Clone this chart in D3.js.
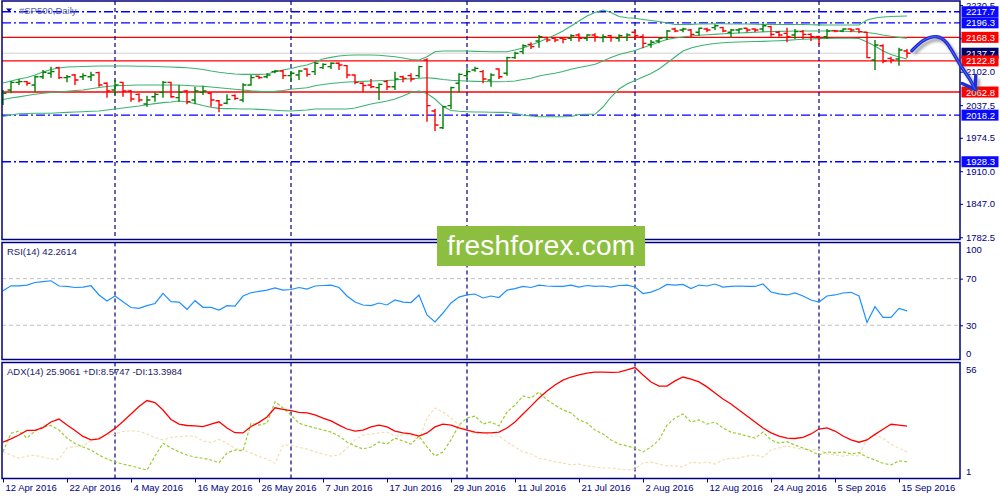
<!DOCTYPE html>
<html><head><meta charset="utf-8">
<script src="https://cdn.jsdelivr.net/npm/d3@7"></script>
<style>
body{margin:0;background:#fff;}
svg{display:block;font-family:"Liberation Sans",Arial,sans-serif;}
</style>
</head><body>
<svg id="c" width="1000" height="500"></svg>
<script>
// ---------------- DATA ----------------
const dates = [
"2016-04-12","2016-04-13","2016-04-14","2016-04-15","2016-04-18","2016-04-19","2016-04-20","2016-04-21","2016-04-22","2016-04-25",
"2016-04-26","2016-04-27","2016-04-28","2016-04-29","2016-05-02","2016-05-03","2016-05-04","2016-05-05","2016-05-06","2016-05-09",
"2016-05-10","2016-05-11","2016-05-12","2016-05-13","2016-05-16","2016-05-17","2016-05-18","2016-05-19","2016-05-20","2016-05-23",
"2016-05-24","2016-05-25","2016-05-26","2016-05-27","2016-05-30","2016-05-31","2016-06-01","2016-06-02","2016-06-03","2016-06-06",
"2016-06-07","2016-06-08","2016-06-09","2016-06-10","2016-06-13","2016-06-14","2016-06-15","2016-06-16","2016-06-17","2016-06-20",
"2016-06-21","2016-06-22","2016-06-23","2016-06-24","2016-06-27","2016-06-28","2016-06-29","2016-06-30","2016-07-01","2016-07-04",
"2016-07-05","2016-07-06","2016-07-07","2016-07-08","2016-07-11","2016-07-12","2016-07-13","2016-07-14","2016-07-15","2016-07-18",
"2016-07-19","2016-07-20","2016-07-21","2016-07-22","2016-07-25","2016-07-26","2016-07-27","2016-07-28","2016-07-29","2016-08-01",
"2016-08-02","2016-08-03","2016-08-04","2016-08-05","2016-08-08","2016-08-09","2016-08-10","2016-08-11","2016-08-12","2016-08-15",
"2016-08-16","2016-08-17","2016-08-18","2016-08-19","2016-08-22","2016-08-23","2016-08-24","2016-08-25","2016-08-26","2016-08-29",
"2016-08-30","2016-08-31","2016-09-01","2016-09-02","2016-09-05","2016-09-06","2016-09-07","2016-09-08","2016-09-09","2016-09-12",
"2016-09-13","2016-09-14","2016-09-15","2016-09-16"];

const open = [2047.4,2066.7,2081.5,2082.8,2076.4,2092.4,2098.9,2109.8,2090.5,2095.7,
2092.4,2092.4,2100.2,2079.6,2066.7,2081.5,2064.8,2058.3,2039.7,2053.8,
2062.2,2081.5,2051.9,2064.8,2047.4,2062.2,2060.3,2046.1,2041.0,2055.8,
2047.4,2076.4,2093.1,2092.4,2102.1,2103.4,2094.4,2095.7,2107.2,2102.1,
2109.8,2111.7,2118.2,2113.7,2095.7,2079.6,2076.4,2071.2,2082.8,2073.1,
2092.4,2094.4,2094.4,2124.6,2026.2,1994.0,2036.5,2079.6,2094.4,2105.3,
2102.1,2086.0,2107.2,2098.9,2129.1,2140.7,2154.8,2161.2,2167.7,2166.4,
2166.4,2166.4,2172.8,2166.4,2172.8,2167.7,2171.5,2166.4,2168.3,2178.0,
2169.6,2154.8,2161.2,2167.7,2184.4,2182.5,2182.5,2178.0,2184.4,2187.0,
2187.0,2178.0,2182.5,2185.7,2184.4,2184.4,2188.9,2178.0,2176.0,2172.8,
2179.3,2174.1,2169.6,2169.6,2181.2,2180.5,2184.4,2184.4,2178.0,2124.6,
2152.2,2127.8,2126.5,2142.0];

const high = [2066.7,2084.1,2087.9,2084.1,2094.4,2105.3,2111.7,2111.7,2095.7,2097.6,
2098.9,2102.1,2102.1,2081.5,2086.0,2082.8,2066.7,2060.3,2055.8,2062.2,
2084.1,2082.8,2076.4,2066.7,2073.1,2075.1,2062.2,2047.4,2058.3,2058.3,
2079.6,2095.7,2094.4,2098.9,2105.3,2105.3,2102.1,2105.3,2108.5,2121.4,
2118.2,2120.1,2120.1,2114.9,2096.9,2081.5,2087.9,2079.6,2086.0,2102.1,
2094.4,2098.9,2113.7,2127.8,2030.1,2036.5,2073.1,2098.9,2108.5,2111.7,
2105.3,2098.9,2108.5,2131.0,2140.7,2154.8,2158.7,2172.8,2169.6,2168.3,
2168.3,2174.1,2176.0,2174.1,2176.0,2174.1,2172.8,2174.1,2176.0,2182.5,
2174.1,2163.2,2167.7,2182.5,2187.0,2187.0,2184.4,2187.0,2187.0,2193.4,
2188.9,2184.4,2185.7,2187.0,2185.7,2193.4,2190.8,2180.5,2187.0,2184.4,
2182.5,2176.0,2171.5,2184.4,2182.5,2185.7,2185.7,2185.7,2179.3,2163.2,
2154.8,2131.0,2148.4,2145.8];

const low = [2037.8,2060.3,2076.4,2075.1,2062.2,2087.9,2090.5,2087.9,2081.5,2076.4,
2086.0,2084.1,2073.1,2051.9,2057.1,2053.8,2044.2,2042.9,2034.6,2044.2,
2051.9,2051.9,2044.2,2039.1,2039.1,2057.1,2034.6,2023.6,2039.1,2047.4,
2042.9,2075.1,2087.9,2089.2,2098.9,2087.9,2082.8,2086.0,2092.4,2095.7,
2107.2,2107.2,2105.3,2089.2,2077.6,2062.2,2069.9,2047.4,2066.7,2066.7,
2081.5,2082.8,2090.5,2005.6,1987.6,1991.5,2030.1,2062.2,2087.9,2102.1,
2079.6,2073.1,2087.9,2094.4,2126.5,2135.5,2145.8,2148.4,2158.7,2158.7,
2156.7,2161.2,2160.0,2161.2,2160.0,2158.7,2160.0,2160.0,2161.2,2163.2,
2147.1,2148.4,2156.7,2163.2,2178.0,2178.0,2167.7,2171.5,2178.0,2182.5,
2178.0,2167.7,2176.0,2178.0,2178.0,2179.3,2169.6,2169.6,2158.7,2165.1,
2165.1,2161.2,2153.5,2165.1,2178.0,2178.0,2178.0,2176.0,2127.8,2105.3,
2118.2,2118.2,2113.7,2129.1];

const close = [2060.3,2081.5,2082.8,2079.6,2092.4,2100.8,2102.1,2090.5,2092.4,2086.0,
2094.4,2095.7,2076.4,2064.8,2076.4,2064.8,2049.3,2047.4,2047.4,2058.3,
2081.5,2053.8,2062.2,2044.2,2064.8,2064.8,2047.4,2037.8,2048.7,2050.6,
2076.4,2090.5,2090.5,2095.7,2103.4,2094.4,2098.9,2103.4,2096.9,2118.2,
2116.2,2118.2,2114.9,2095.7,2081.5,2075.1,2073.1,2077.6,2073.1,2087.9,
2089.2,2087.9,2111.7,2036.5,1999.2,2034.6,2071.2,2096.9,2102.1,2108.5,
2087.9,2095.7,2092.4,2129.1,2137.5,2152.2,2150.3,2169.6,2163.2,2163.2,
2164.5,2171.5,2166.4,2172.8,2169.0,2169.6,2167.7,2171.5,2172.8,2171.5,
2156.7,2158.7,2166.4,2180.5,2180.5,2184.4,2174.1,2185.7,2182.5,2190.8,
2180.5,2182.5,2184.4,2182.5,2182.5,2190.8,2174.1,2172.8,2169.6,2179.3,
2174.1,2169.6,2167.7,2180.5,2180.5,2184.4,2182.5,2179.3,2129.1,2153.5,
2122.7,2124.6,2143.9,2137.7];

const bbUpper = [2080.2,2084.0,2087.9,2090.8,2095.6,2101.4,2106.2,2109.1,2111.0,2111.6,
2112.0,2112.4,2113.0,2113.0,2113.0,2113.0,2113.0,2112.6,2112.4,2112.0,
2111.6,2111.0,2110.4,2109.7,2108.1,2106.2,2103.3,2100.8,2098.9,2097.5,
2096.9,2096.9,2096.9,2097.5,2102.0,2105.2,2108.1,2112.0,2114.9,2120.7,
2126.5,2129.7,2132.3,2133.6,2134.2,2134.2,2134.2,2133.6,2132.3,2130.9,
2128.4,2125.5,2124.5,2131.0,2140.6,2141.9,2141.9,2141.9,2141.9,2141.3,
2140.9,2140.6,2140.6,2140.6,2143.8,2147.7,2153.5,2159.3,2166.0,2172.8,
2180.5,2190.1,2199.8,2209.4,2216.2,2221.0,2216.2,2208.5,2206.0,2205.0,
2202.7,2200.7,2198.8,2195.9,2193.0,2193.0,2193.4,2194.0,2194.0,2194.4,
2194.4,2194.0,2194.0,2194.0,2193.6,2193.4,2193.4,2193.0,2193.0,2193.0,
2193.0,2192.6,2192.4,2192.1,2192.1,2192.1,2192.1,2192.1,2201.7,2205.6,
2207.5,2208.5,2209.0,2209.4];

const bbMiddle = [2048.3,2051.2,2053.5,2056.0,2058.4,2060.3,2061.8,2062.8,2064.3,2065.7,
2066.7,2069.0,2071.5,2073.4,2074.8,2075.3,2075.9,2076.3,2076.3,2076.3,
2076.3,2076.3,2076.3,2075.3,2074.4,2073.8,2072.4,2071.1,2069.5,2068.0,
2066.7,2065.1,2064.1,2063.4,2064.1,2065.7,2068.0,2069.5,2071.1,2074.9,
2077.3,2079.2,2080.7,2082.1,2082.7,2083.4,2084.0,2084.4,2085.0,2085.9,
2087.3,2088.5,2089.4,2090.4,2089.2,2086.9,2085.4,2084.6,2084.0,2083.4,
2083.1,2082.7,2082.7,2083.1,2084.0,2086.9,2089.2,2093.7,2096.6,2098.9,
2102.3,2106.6,2110.1,2113.0,2116.2,2122.6,2129.4,2135.1,2139.0,2142.9,
2148.7,2153.5,2159.3,2164.1,2167.0,2168.9,2170.8,2172.4,2173.3,2174.1,
2175.1,2175.9,2176.6,2177.4,2178.2,2178.9,2179.5,2179.9,2180.1,2180.5,
2180.5,2180.5,2180.5,2180.5,2180.5,2180.1,2179.7,2179.1,2177.6,2175.7,
2172.8,2170.3,2168.3,2166.4];

const bbLower = [2015.5,2018.4,2020.9,2021.3,2021.7,2021.7,2021.7,2022.7,2023.6,2024.2,
2024.8,2025.6,2026.1,2028.1,2030.0,2031.9,2033.9,2035.8,2038.1,2040.4,
2042.3,2043.5,2045.4,2043.5,2040.6,2036.8,2033.5,2031.3,2030.8,2030.4,
2030.0,2030.0,2029.4,2028.5,2027.5,2026.7,2026.1,2027.1,2028.1,2030.0,
2030.0,2030.0,2030.0,2030.0,2031.9,2035.8,2039.6,2042.5,2045.4,2049.3,
2055.1,2061.8,2064.7,2059.9,2049.3,2034.8,2027.1,2025.6,2024.8,2024.2,
2024.2,2023.8,2023.6,2023.6,2021.3,2018.4,2016.5,2015.1,2015.1,2015.1,
2015.1,2015.5,2019.4,2019.8,2019.8,2033.9,2053.2,2068.6,2078.2,2085.0,
2091.7,2098.5,2107.2,2118.7,2130.3,2141.9,2147.7,2151.5,2154.4,2156.4,
2157.9,2158.7,2159.3,2159.8,2160.2,2160.6,2161.2,2161.8,2162.5,2163.5,
2164.5,2165.2,2165.8,2166.2,2166.4,2166.4,2166.4,2166.0,2159.3,2151.5,
2141.9,2135.1,2130.3,2126.5];

const rsi = [59.6,63.9,63.8,64.5,66.7,67.5,68.2,63.7,63.3,62.4,
62.8,63.9,56.0,50.8,55.1,50.2,45.2,44.5,46.8,48.7,
57.4,50.2,49.9,43.7,51.1,45.4,45.4,43.1,46.8,46.5,
55.1,57.9,59.0,60.2,62.0,60.2,60.7,62.4,61.1,63.7,
64.1,64.5,62.4,55.1,49.9,47.4,46.9,49.1,47.4,51.7,
49.9,49.5,56.0,38.8,32.8,40.5,49.1,54.2,56.0,56.8,
53.4,55.1,53.8,60.2,61.5,63.3,62.4,64.5,63.7,63.3,
63.3,64.5,62.8,64.1,63.3,63.7,62.8,64.1,64.5,62.8,
57.2,58.5,61.1,65.0,64.5,65.0,61.5,64.5,63.7,65.4,
62.8,63.3,63.7,63.3,63.3,65.4,58.5,56.9,56.0,57.7,
55.1,51.7,49.9,55.1,56.0,57.7,58.3,55.1,32.4,45.9,
36.8,36.8,44.5,42.3];

const adx = [18.1,19.7,21.6,23.8,23.8,25.2,27.9,29.3,26.4,23.8,
20.9,19.2,19.7,22.1,24.8,28.1,31.8,35.4,38.3,37.3,
33.7,29.1,26.9,26.2,26.0,25.7,26.9,28.0,25.0,22.7,
22.6,25.7,27.7,30.3,34.8,34.0,33.4,32.6,32.3,31.3,
29.8,28.4,26.4,24.5,23.5,24.0,25.5,26.4,25.5,23.5,
22.6,22.1,21.1,22.6,25.5,26.9,26.4,25.0,24.0,23.0,
22.6,22.6,23.0,25.0,27.9,31.8,35.6,39.5,42.9,45.8,
48.2,49.7,50.7,51.6,52.1,52.1,51.9,52.1,53.1,54.3,
50.7,47.3,45.3,45.3,47.8,49.7,48.7,47.3,44.9,41.9,
39.0,36.6,33.7,30.8,27.9,25.0,22.6,21.1,20.1,19.9,
20.4,22.1,24.5,25.0,23.5,21.1,19.2,18.1,19.2,21.9,
24.4,26.8,26.4,25.9];

const plusDI = [13.5,22.4,23.5,20.1,23.5,25.5,26.2,24.0,20.1,17.5,
15.8,14.3,11.9,10.0,8.5,7.5,6.6,5.6,4.6,11.4,
17.6,15.3,13.4,11.9,10.9,10.3,9.5,8.2,12.9,14.3,
14.0,27.3,26.4,27.3,37.7,34.7,31.3,27.3,26.0,25.0,
24.0,23.0,21.1,18.2,16.3,14.8,15.8,18.2,17.2,20.1,
18.7,17.2,21.1,15.8,11.4,13.4,19.2,26.4,29.8,30.8,
26.9,27.9,26.0,32.7,36.1,40.5,39.5,42.4,38.6,36.1,
33.7,32.3,28.9,27.4,24.0,22.1,19.2,17.2,16.3,15.3,
13.4,15.8,19.2,26.4,29.8,31.8,27.9,28.9,26.9,27.9,
25.0,23.0,22.1,21.1,20.1,23.0,19.2,17.7,18.4,16.7,
15.3,13.8,11.9,13.4,12.9,13.4,12.4,13.0,10.9,9.5,
7.9,7.1,9.1,8.6];

const minusDI = [13.5,11.9,10.3,11.4,11.7,10.9,10.0,9.8,15.3,16.0,
16.3,18.7,20.6,21.6,22.0,23.3,23.7,23.3,22.1,20.4,
19.2,20.4,20.8,21.1,20.9,18.7,17.9,19.5,17.7,15.1,
14.3,12.9,11.1,10.0,7.9,16.7,16.7,15.6,14.8,13.4,
12.4,11.4,11.9,15.3,19.2,21.6,22.1,22.6,23.0,21.1,
21.6,21.6,19.2,29.8,34.7,32.7,29.8,26.4,24.0,22.1,
23.0,21.1,21.1,18.2,15.8,13.4,12.4,10.4,9.5,8.5,
8.0,7.1,7.5,6.6,6.1,5.6,5.6,5.1,4.6,5.1,
8.0,8.5,7.5,6.6,6.6,6.1,8.5,8.0,8.5,7.5,
9.5,10.4,10.4,11.4,11.9,10.9,14.3,15.3,16.3,15.3,
14.8,14.3,14.8,12.4,11.9,11.4,11.9,11.4,20.1,21.6,
20.0,17.2,15.2,13.4];

const xTickDates = ["2016-04-12","2016-04-22","2016-05-04","2016-05-16","2016-05-26","2016-06-07","2016-06-17",
"2016-06-29","2016-07-11","2016-07-21","2016-08-02","2016-08-12","2016-08-24","2016-09-05","2016-09-15"];
const priceTicks = [2230.5, 2166.5, 2102.0, 2037.5, 1974.5, 1910.0, 1847.0, 1782.5];
const rsiTicks = [100, 70, 30, 0];
const rsiLevels = [70, 30];
const adxTicks = [56, 1];
const blueLevels = [2217.7, 2196.3, 2018.2, 1928.3];
const redLevels = [2168.3, 2122.8, 2062.8];
const bidPrice = 2137.7;
// hand-drawn forecast arrow (bar index, price)
const forecastBar   = [113.6, 114.2, 115.0, 115.9, 116.7, 117.3, 118.0, 118.8, 119.8, 120.9, 121.5];
const forecastPrice = [2142.5, 2151.5, 2161.8, 2168.3, 2169.5, 2166.4, 2156.8, 2137.5, 2111.6, 2086.0, 2068.0];
const headBar   = [119.9, 121.5, 121.6];
const headPrice = [2079.2, 2068.0, 2094.6];

// ---------------- LAYOUT ----------------
const svg = d3.select("#c");
const PL = 2, PR = 960;
const mainTop = 1, mainBot = 239.5, rsiTop = 242.5, rsiBot = 359.5, adxTop = 362.5, adxBot = 478.5;
const NAVY = "#000080";
const FONT = "9.5px";

const x = d3.scaleLinear().domain([0, dates.length - 1]).range([3, 907]);
const yMain = d3.scaleLinear().domain([1782.5, 2230.5]).range([237.3, 5.1]);
const yRsi = d3.scaleLinear().domain([0, 100]).range([360.2, 243.7]);
const yAdx = d3.scaleLinear().domain([1, 56]).range([477.5, 364]);

svg.append("rect").attr("width", 1000).attr("height", 500).attr("fill", "#fff");

const defs = svg.append("defs");
[["clipMain", mainTop, mainBot], ["clipRsi", rsiTop, rsiBot], ["clipAdx", adxTop, adxBot]].forEach(([id, t, b]) => {
  defs.append("clipPath").attr("id", id).append("rect")
    .attr("x", PL).attr("y", t).attr("width", PR - PL).attr("height", b - t);
});
const f = defs.append("filter").attr("id", "shadow").attr("x", "-20%").attr("y", "-20%").attr("width", "140%").attr("height", "140%");
f.append("feGaussianBlur").attr("stdDeviation", 1.6);

const parse = d3.timeParse("%Y-%m-%d");
const pd = dates.map(parse);
const monthStarts = pd.map((d, i) => i).filter(i => i > 0 && pd[i].getMonth() !== pd[i - 1].getMonth());

function separators(g, t, b) {
  g.selectAll(".sep").data(monthStarts).join("line")
    .attr("x1", i => x(i)).attr("x2", i => x(i)).attr("y1", t).attr("y2", b)
    .attr("stroke", NAVY).attr("stroke-width", 1.2).attr("stroke-dasharray", "4,3");
}

// ---------------- MAIN PANEL ----------------
const gMain = svg.append("g").attr("clip-path", "url(#clipMain)");
gMain.append("line").attr("x1", PL).attr("x2", PR).attr("y1", yMain(bidPrice)).attr("y2", yMain(bidPrice))
  .attr("stroke", "#d3d3d3").attr("stroke-width", 1);
gMain.selectAll(".bl").data(blueLevels).join("line")
  .attr("x1", PL).attr("x2", PR).attr("y1", d => yMain(d)).attr("y2", d => yMain(d))
  .attr("stroke", "#0000ff").attr("stroke-width", 1.4).attr("stroke-dasharray", "9,3,2,3");
gMain.selectAll(".rl").data(redLevels).join("line")
  .attr("x1", PL).attr("x2", PR).attr("y1", d => yMain(d)).attr("y2", d => yMain(d))
  .attr("stroke", "#ff0000").attr("stroke-width", 1.3);
separators(gMain, mainTop, mainBot);

const bandLine = d3.line().x((d, i) => x(i)).y(d => yMain(d));
[bbUpper, bbMiddle, bbLower].forEach(arr => {
  gMain.append("path").attr("d", bandLine(arr)).attr("fill", "none")
    .attr("stroke", "#3cb371").attr("stroke-width", 1.1);
});

gMain.selectAll(".bar").data(dates).join("path")
  .attr("d", (d, i) => {
    const xi = x(i);
    return `M${xi},${yMain(high[i])}V${yMain(low[i])}M${xi - 3.5},${yMain(open[i])}H${xi}M${xi},${yMain(close[i])}H${xi + 3.5}`;
  })
  .attr("fill", "none")
  .attr("stroke", (d, i) => close[i] >= open[i] ? "#008000" : "#ff0000")
  .attr("stroke-width", 1.4);

// ---------------- RSI PANEL ----------------
const gRsi = svg.append("g").attr("clip-path", "url(#clipRsi)");
gRsi.selectAll(".lv").data(rsiLevels).join("line")
  .attr("x1", PL).attr("x2", PR).attr("y1", d => yRsi(d)).attr("y2", d => yRsi(d))
  .attr("stroke", "#c0c0c0").attr("stroke-width", 1).attr("stroke-dasharray", "4,3");
separators(gRsi, rsiTop, rsiBot);
gRsi.append("path").attr("d", d3.line().x((d, i) => x(i)).y(d => yRsi(d))(rsi))
  .attr("fill", "none").attr("stroke", "#1e90ff").attr("stroke-width", 1.2);

// ---------------- ADX PANEL ----------------
const gAdx = svg.append("g").attr("clip-path", "url(#clipAdx)");
separators(gAdx, adxTop, adxBot);
const adxLine = d3.line().x((d, i) => x(i)).y(d => yAdx(d));
gAdx.append("path").attr("d", adxLine(minusDI)).attr("fill", "none")
  .attr("stroke", "#f5deb3").attr("stroke-width", 1.2).attr("stroke-dasharray", "3,2");
gAdx.append("path").attr("d", adxLine(plusDI)).attr("fill", "none")
  .attr("stroke", "#9acd32").attr("stroke-width", 1.2).attr("stroke-dasharray", "3,2");
gAdx.append("path").attr("d", adxLine(adx)).attr("fill", "none")
  .attr("stroke", "#ff0000").attr("stroke-width", 1.3);

// ---------------- BORDERS ----------------
[[mainTop, mainBot], [rsiTop, rsiBot], [adxTop, adxBot]].forEach(([t, b]) => {
  svg.append("rect").attr("x", PL).attr("y", t).attr("width", PR - PL).attr("height", b - t)
    .attr("fill", "none").attr("stroke", NAVY).attr("stroke-width", 1.5);
});

// ---------------- AXES ----------------
function styleAxis(g) {
  g.select(".domain").remove();
  g.selectAll(".tick line").attr("stroke", NAVY);
  g.selectAll(".tick text").attr("fill", NAVY).style("font-size", FONT)
    .style("font-family", '"Liberation Sans",Arial,sans-serif');
}
svg.append("g").attr("transform", `translate(${PR},0)`)
  .call(d3.axisRight(yMain).tickValues(priceTicks).tickSize(3).tickPadding(3).tickFormat(d3.format(".1f")))
  .call(styleAxis);

const gR = svg.append("g").attr("transform", `translate(${PR},0)`)
  .call(d3.axisRight(yRsi).tickValues(rsiTicks).tickSize(3).tickPadding(3).tickFormat(d3.format("d")))
  .call(styleAxis);
gR.selectAll(".tick").filter(d => d === 100 || d === 0).select("line").remove();
gR.selectAll(".tick").filter(d => d === 100).select("text").attr("dy", "0.9em");
gR.selectAll(".tick").filter(d => d === 0).select("text").attr("dy", "-0.4em");

const gA = svg.append("g").attr("transform", `translate(${PR},0)`)
  .call(d3.axisRight(yAdx).tickValues(adxTicks).tickSize(0).tickPadding(6).tickFormat(d3.format("d")))
  .call(styleAxis);
gA.selectAll(".tick").filter(d => d === 56).select("text").attr("dy", "0.85em");
gA.selectAll(".tick").filter(d => d === 1).select("text").attr("dy", "-0.3em");

const tickIdx = xTickDates.map(s => dates.indexOf(s));
const fmt = d3.timeFormat("%-d %b %Y");
const gx = svg.append("g").attr("transform", `translate(0,${adxBot})`)
  .call(d3.axisBottom(x).tickValues(tickIdx).tickSize(4).tickPadding(2).tickFormat(i => fmt(pd[i])))
  .call(styleAxis);
gx.selectAll(".tick text").attr("text-anchor", "start").attr("x", 2);

// level labels on the price scale
function levelLabel(v, bg) {
  const y = yMain(v);
  svg.append("rect").attr("x", PR + 1.5).attr("y", y - 5.5).attr("width", 37).attr("height", 11).attr("fill", bg);
  svg.append("text").attr("x", PR + 6).attr("y", y + 3.5).attr("fill", "#fff")
    .style("font-size", FONT).text(v.toFixed(1));
}
levelLabel(bidPrice, "#000066");
blueLevels.forEach(v => levelLabel(v, "#0a0aff"));
redLevels.forEach(v => levelLabel(v, "#ff0000"));

// ---------------- TITLES ----------------
svg.append("path").attr("d", "M6,8.5L12,8.5L9,12Z").attr("fill", NAVY);
svg.append("text").attr("x", 19).attr("y", 13.5).attr("fill", "#5566b0").style("font-size", FONT).text("#SP500,Daily");
svg.append("text").attr("x", 7).attr("y", 255).attr("fill", "#1a1a66").style("font-size", FONT).text("RSI(14) 42.2614");
svg.append("text").attr("x", 7).attr("y", 375).attr("fill", "#1a1a66").style("font-size", FONT)
  .text("ADX(14) 25.9061 +DI:8.5747 -DI:13.3984");

// ---------------- WATERMARK ----------------
svg.append("rect").attr("x", 437).attr("y", 226).attr("width", 208).attr("height", 40).attr("fill", "#8cbf3f");
svg.append("text").attr("x", 541).attr("y", 255).attr("text-anchor", "middle").attr("fill", "#fff")
  .style("font-size", "28px").attr("textLength", 188).text("freshforex.com");

// ---------------- FORECAST ARROW ----------------
const arrowLine = d3.line().x(d => x(d[0])).y(d => yMain(d[1])).curve(d3.curveCatmullRom);
const pts = forecastBar.map((b, i) => [b, forecastPrice[i]]);
const head = headBar.map((b, i) => [b, headPrice[i]]);
const headLine = d3.line().x(d => x(d[0])).y(d => yMain(d[1]));
const ga = svg.append("g");
const sh = ga.append("g").attr("transform", "translate(2.5,3)").attr("filter", "url(#shadow)").attr("opacity", 0.55);
sh.append("path").attr("d", arrowLine(pts)).attr("fill", "none").attr("stroke", "#555").attr("stroke-width", 3.5);
sh.append("path").attr("d", headLine(head)).attr("fill", "none").attr("stroke", "#555").attr("stroke-width", 3.5);
ga.append("path").attr("d", arrowLine(pts)).attr("fill", "none").attr("stroke", "#1c2cd8")
  .attr("stroke-width", 3.4).attr("stroke-linecap", "round").attr("stroke-linejoin", "round");
ga.append("path").attr("d", headLine(head)).attr("fill", "none").attr("stroke", "#1c2cd8")
  .attr("stroke-width", 3.4).attr("stroke-linecap", "round").attr("stroke-linejoin", "round");
ga.append("path").attr("d", arrowLine(pts)).attr("fill", "none").attr("stroke", "#5a68ff")
  .attr("stroke-width", 1).attr("stroke-linecap", "round");
</script>
</body></html>
